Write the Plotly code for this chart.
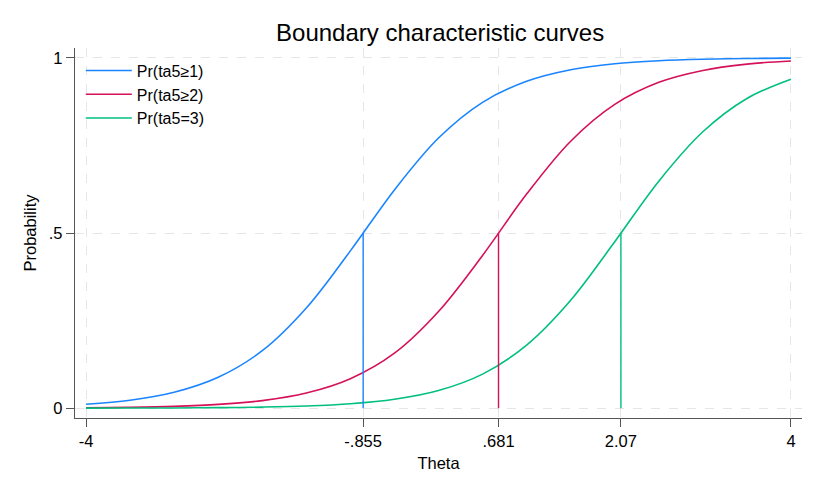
import plotly.graph_objects as go

theta = [-4, -3.5, -3, -2.5, -2, -1.5, -1, -0.5, 0, 0.5, 1, 1.5, 2, 2.5, 3, 3.5, 4]
pr_ge1 = [0.0114, 0.0228, 0.0454, 0.0882, 0.164, 0.286, 0.449, 0.623, 0.771, 0.873,
          0.933, 0.966, 0.983, 0.9915, 0.9958, 0.9979, 0.9990]
pr_ge2 = [0.0013, 0.0026, 0.0053, 0.0108, 0.0217, 0.0433, 0.0842, 0.157, 0.276, 0.436,
          0.611, 0.762, 0.867, 0.930, 0.964, 0.982, 0.991]
pr_eq3 = [0.00018, 0.00037, 0.00075, 0.0015, 0.0031, 0.0062, 0.0126, 0.0254, 0.0503, 0.0972,
          0.180, 0.308, 0.475, 0.648, 0.789, 0.884, 0.939]
thresholds = [-0.855, 0.681, 2.07]
names = ["Pr(ta5≥1)", "Pr(ta5≥2)", "Pr(ta5=3)"]
colors = ["#1a85ff", "#d41159", "#00bf7f"]

x_tickvals = [-4, -0.855, 0.681, 2.07, 4]
x_ticktext = ["-4", "-.855", ".681", "2.07", "4"]
y_tickvals = [0, 0.5, 1]
y_ticktext = ["0", ".5", "1"]

fig = go.Figure()
for ys, nm, c in zip([pr_ge1, pr_ge2, pr_eq3], names, colors):
    fig.add_trace(go.Scatter(x=theta, y=ys, mode="lines", name=nm,
                             line=dict(color=c, width=1.6, shape="spline")))
for b, c in zip(thresholds, colors):
    fig.add_trace(go.Scatter(x=[b, b], y=[0, 0.5], mode="lines", showlegend=False,
                             line=dict(color=c, width=1.4), hoverinfo="skip"))

font = "Liberation Sans, Arial, sans-serif"
fig.update_layout(
    width=820, height=492,
    margin=dict(l=67, r=26, t=40, b=82),
    paper_bgcolor="white", plot_bgcolor="white",
    font=dict(family=font, size=16.5, color="#000000"),
    title=dict(text="Boundary characteristic curves", x=0.527, xanchor="center",
               y=0.951, yanchor="middle", font=dict(size=24, color="#000000")),
    showlegend=True,
    legend=dict(x=0.008, y=0.985, xanchor="left", yanchor="top", bgcolor="rgba(0,0,0,0)",
                font=dict(size=16), tracegroupgap=0, itemwidth=46),
    xaxis=dict(range=[-4.125, 4.125], tickvals=x_tickvals, ticktext=x_ticktext,
               showgrid=True, gridcolor="#e6e6e6", griddash="dash", gridwidth=1,
               zeroline=False, showline=True, linecolor="#555555", linewidth=1.3,
               ticks="outside", ticklen=8, tickcolor="#555555", tickwidth=1.3,
               title=dict(text="Theta", font=dict(size=16.5), standoff=8),
               tickfont=dict(size=16.5), automargin=False),
    yaxis=dict(range=[-0.028, 1.028], tickvals=y_tickvals, ticktext=y_ticktext,
               showgrid=True, gridcolor="#e6e6e6", griddash="dash", gridwidth=1,
               zeroline=False, showline=True, linecolor="#555555", linewidth=1.3,
               ticks="outside", ticklen=8, tickcolor="#555555", tickwidth=1.3,
               title=dict(text="Probability", font=dict(size=16.5), standoff=8),
               tickfont=dict(size=16.5), automargin=False),
)
fig.write_html("out.html")
